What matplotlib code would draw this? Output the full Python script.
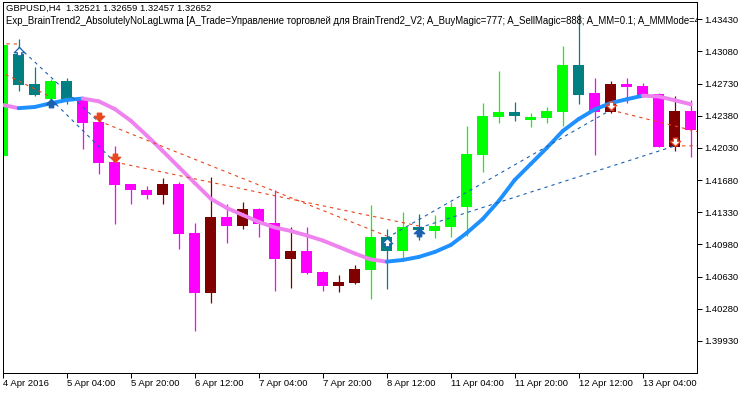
import matplotlib
matplotlib.use('Agg')
import matplotlib.pyplot as plt
from matplotlib.path import Path
from matplotlib.markers import MarkerStyle
from matplotlib.collections import LineCollection

plt.rcParams['font.family'] = ['Liberation Sans', 'DejaVu Sans']

# H4 bars, index 0 = 4 Apr 2016 12:00
opens = [1.41946, 1.43052, 1.42726, 1.42563, 1.42762, 1.42552, 1.42316, 1.41877, 1.41638, 1.41573,
         1.41518, 1.41638, 1.41105, 1.40455, 1.41279, 1.41181, 1.41366, 1.41214, 1.40822, 1.40909,
         1.40681, 1.40532, 1.40561, 1.40702, 1.41058, 1.40912, 1.41170, 1.41130, 1.41173, 1.41385,
         1.41957, 1.42370, 1.42421, 1.42338, 1.42353, 1.42425, 1.42933, 1.42631, 1.42425, 1.42726,
         1.42704, 1.42614, 1.42044, 1.42432]
highs = [1.43150, 1.43216, 1.42914, 1.42780, 1.42791, 1.42588, 1.42324, 1.42052, 1.41638, 1.41616,
         1.41703, 1.41660, 1.41214, 1.41714, 1.41420, 1.41442, 1.41377, 1.41573, 1.41170, 1.41170,
         1.40692, 1.40648, 1.40757, 1.41410, 1.41148, 1.41337, 1.41312, 1.41301, 1.41442, 1.42269,
         1.42523, 1.42871, 1.42534, 1.42407, 1.42479, 1.43143, 1.43488, 1.42788, 1.42762, 1.42788,
         1.42737, 1.42625, 1.42596, 1.42552]
lows = [1.41932, 1.42653, 1.42599, 1.42555, 1.42505, 1.42022, 1.41752, 1.41203, 1.41420, 1.41475,
        1.41420, 1.40931, 1.40042, 1.40347, 1.40996, 1.41148, 1.41061, 1.40474, 1.40507, 1.40663,
        1.40474, 1.40463, 1.40550, 1.40387, 1.40496, 1.40830, 1.41029, 1.41045, 1.41061, 1.41072,
        1.41772, 1.42305, 1.42324, 1.42262, 1.42305, 1.42269, 1.42512, 1.41954, 1.42411, 1.42516,
        1.42590, 1.42040, 1.42000, 1.41935]
closes = [1.43150, 1.42718, 1.42610, 1.42762, 1.42560, 1.42305, 1.41870, 1.41630, 1.41573, 1.41518,
          1.41638, 1.41094, 1.40455, 1.41279, 1.41181, 1.41366, 1.41203, 1.40825, 1.40909, 1.40670,
          1.40532, 1.40572, 1.40713, 1.41061, 1.40912, 1.41173, 1.41138, 1.41181, 1.41388, 1.41964,
          1.42378, 1.42421, 1.42378, 1.42364, 1.42432, 1.42933, 1.42610, 1.42425, 1.42726, 1.42697,
          1.42596, 1.42044, 1.42432, 1.42226]
# BrainTrend2 state: 1 = up trend, -1 = down trend
trend = [1, 1, 1, 1, 1, -1, -1, -1, -1, -1, -1, -1, -1, -1, -1, -1, -1, -1, -1, -1, -1, -1, -1,
         1, 1, 1, 1, 1, 1, 1, 1, 1, 1, 1, 1, 1, 1, -1, -1, -1, -1, -1, -1, -1]

# AbsolutelyNoLagLwma
nolag = [1.42498, 1.42463, 1.42476, 1.42516, 1.42552, 1.42568, 1.42538, 1.42454, 1.42327, 1.42166,
         1.41997, 1.41823, 1.41649, 1.41478, 1.41377, 1.41301, 1.41225, 1.41165, 1.41127, 1.41078,
         1.41023, 1.40953, 1.40882, 1.40817, 1.40793, 1.40811, 1.40844, 1.40898, 1.40974, 1.41105,
         1.41257, 1.41453, 1.41682, 1.41856, 1.42030, 1.42215, 1.42345, 1.42449, 1.42519, 1.42560,
         1.42599, 1.42590, 1.42549, 1.42505]

# trades
buy_open_bar = [1, 3, 24, 26]
buy_open_price = [1.43129, 1.42563, 1.41051, 1.41159]
buy_close_bar = [6, 7, 38, 42]
buy_close_price = [1.42313, 1.41877, 1.42443, 1.42052]
buy_hollow = [True, False, True, False]
sell_open_bar = [-4, -2, 6, 7, 38, 42]
sell_open_price = [1.43175, 1.43020, 1.42324, 1.41877, 1.42443, 1.42052]
sell_close_bar = [1, 3, 24, 26, 46, 47]
sell_close_price = [1.43161, 1.42585, 1.41072, 1.41181, 1.42095, 1.42060]
sell_hollow = [False, False, False, False, True, True]

price_ticks = [1.43430, 1.43080, 1.42730, 1.42380, 1.42030, 1.41680, 1.41330, 1.40980, 1.40630, 1.40280, 1.39930]
time_labels = ['4 Apr 2016', '5 Apr 04:00', '5 Apr 20:00', '6 Apr 12:00', '7 Apr 04:00', '7 Apr 20:00',
               '8 Apr 12:00', '11 Apr 04:00', '11 Apr 20:00', '12 Apr 12:00', '13 Apr 04:00']

title1 = 'GBPUSD,H4  1.32521 1.32659 1.32457 1.32652'
title2 = ('Exp_BrainTrend2_AbsolutelyNoLagLwma [A_Trade=Управление торговлей для BrainTrend2_V2; '
          'A_BuyMagic=777; A_SellMagic=888; A_MM=0.1; A_MMMode=4')

BUY_COL = '#1a62b0'
SELL_COL = '#e8461e'

fig = plt.figure(figsize=(7.5, 3.94), dpi=100)
ax = fig.add_axes([2.5 / 750, 20.7 / 394, 694.5 / 750, 371 / 394])

n = len(opens)
xs = list(range(n))

# candles
cols = []
for i in xs:
    up = closes[i] >= opens[i]
    if trend[i] > 0:
        cols.append('#00ff00' if up else '#008080')
    else:
        cols.append('#800000' if up else '#ff00ff')
ax.vlines(xs, lows, highs, colors=cols, lw=0.9, zorder=2)
ax.bar(xs, [c - o for o, c in zip(opens, closes)], bottom=opens, width=0.69,
       color=cols, lw=0, zorder=2)

# nolag line, blue when rising, violet when falling
segs = [[(i, nolag[i]), (i + 1, nolag[i + 1])] for i in range(n - 1)]
seg_cols = ['#1e90ff' if nolag[i + 1] >= nolag[i] else '#ee82ee' for i in range(n - 1)]
ax.add_collection(LineCollection(segs, colors=seg_cols, linewidths=2.8, capstyle='round', zorder=3))

# trade lines
for b0, p0, b1, p1 in zip(buy_open_bar, buy_open_price, buy_close_bar, buy_close_price):
    ax.plot([b0, b1], [p0, p1], color=BUY_COL, lw=0.8, dashes=(3, 3.6), zorder=4)
for b0, p0, b1, p1 in zip(sell_open_bar, sell_open_price, sell_close_bar, sell_close_price):
    ax.plot([b0, b1], [p0, p1], color=SELL_COL, lw=0.8, dashes=(3, 3.6), zorder=4)

# deal arrows, tip at the deal price
up_v = [(0, 0), (1, -1), (0.42, -1), (0.42, -1.6), (-0.42, -1.6), (-0.42, -1), (-1, -1), (0, 0)]
codes = [Path.MOVETO] + [Path.LINETO] * 6 + [Path.CLOSEPOLY]
up_arrow = MarkerStyle(Path(up_v, codes))
down_arrow = MarkerStyle(Path([(x, -y) for x, y in up_v], codes))

for b, p, h in zip(buy_open_bar, buy_open_price, buy_hollow):
    ax.plot(b, p, marker=up_arrow, ms=12, mfc='white' if h else BUY_COL, mec=BUY_COL, mew=0.9, ls='none', zorder=5)
for b, p, h in zip(sell_open_bar, sell_open_price, sell_hollow):
    ax.plot(b, p, marker=down_arrow, ms=12, mfc='white' if h else SELL_COL, mec=SELL_COL, mew=0.9, ls='none', zorder=5)

ax.set_xlim(-0.0125, 43.39)
ax.set_ylim(1.39578, 1.43615)

ax.yaxis.tick_right()
ax.set_yticks(price_ticks)
ax.set_yticklabels(['%.5f' % p for p in price_ticks])
ax.set_xticks(range(0, 4 * len(time_labels), 4))
ax.set_xticklabels(time_labels, ha='left')
ax.tick_params(axis='both', direction='out', length=3.6, width=0.72, labelsize=6.8, colors='black')
ax.tick_params(axis='y', pad=1.4)
ax.tick_params(axis='x', pad=0.2)
for s in ax.spines.values():
    s.set_linewidth(0.72)
    s.set_color('black')

ax.text(3.5 / 694.5, 1 - 6 / 371, title1, transform=ax.transAxes, fontsize=6.8, va='center', ha='left', zorder=6)
t2 = ax.text(3.5 / 694.5, 1 - 18.7 / 371, title2, transform=ax.transAxes, fontsize=6.9, va='center', ha='left',
             zorder=6)
t2.set_clip_box(ax.bbox)
t2.set_clip_on(True)

fig.savefig('out.png', dpi=100)
